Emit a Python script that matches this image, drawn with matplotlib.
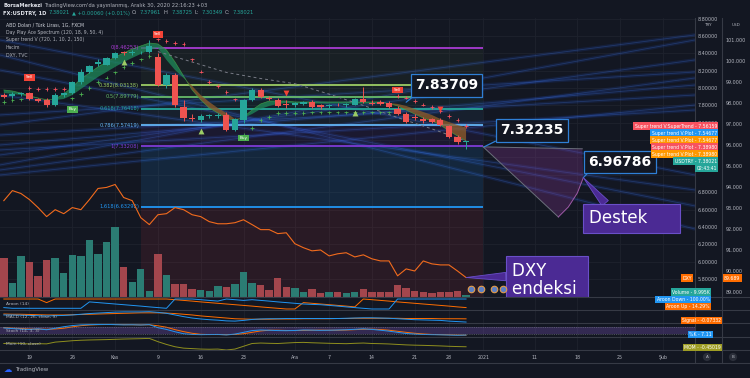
import numpy as np
import pandas as pd
import matplotlib
matplotlib.use("Agg")
import matplotlib.pyplot as plt
import matplotlib.transforms as mtransforms
from matplotlib.lines import Line2D
from matplotlib.patches import Polygon
from matplotlib.ticker import FormatStrFormatter

BG = "#131722"
GRID = "#1e222d"
SEP = "#363a45"
TXT = "#b2b5be"
UP = "#26a69a"
DOWN = "#ef5350"
ORANGE = "#ff6d00"
BLUE = "#2196f3"

# daily FXCM bars, no bar on 25 Dec
days = pd.bdate_range("2020-10-14", "2021-02-12").drop(pd.Timestamp("2020-12-25"))

opens = [7.92, 7.91, 7.93, 7.94, 7.87, 7.86, 7.80, 7.92, 7.94, 8.07, 8.19, 8.28, 8.27, 8.35,
         8.41, 8.40, 8.41, 8.41, 8.36, 8.04, 8.15, 7.78, 7.66, 7.63, 7.68, 7.68, 7.69, 7.52,
         7.63, 7.86, 7.98, 7.89, 7.86, 7.82, 7.80, 7.82, 7.84, 7.80, 7.79, 7.81, 7.80, 7.81,
         7.87, 7.83, 7.84, 7.83, 7.76, 7.70, 7.67, 7.64, 7.64, 7.63, 7.56, 7.44, 7.37961]
highs = [7.94, 7.95, 7.96, 7.96, 7.89, 7.88, 7.94, 7.96, 8.08, 8.22, 8.27, 8.33, 8.36, 8.41,
         8.43, 8.44, 8.43, 8.55, 8.40, 8.17, 8.17, 7.86, 7.70, 7.70, 7.70, 7.71, 7.72, 7.65,
         7.87, 8.00, 8.00, 7.91, 7.88, 7.86, 7.84, 7.85, 7.86, 7.82, 7.82, 7.83, 7.83, 7.88,
         8.01, 7.86, 7.86, 7.85, 7.79, 7.72, 7.70, 7.67, 7.66, 7.65, 7.58, 7.46, 7.38725]
lows = [7.89, 7.89, 7.91, 7.86, 7.84, 7.78, 7.79, 7.90, 7.93, 8.05, 8.17, 8.25, 8.26, 8.33,
        8.38, 8.38, 8.39, 8.40, 8.02, 8.00, 7.78, 7.62, 7.62, 7.61, 7.66, 7.66, 7.50, 7.50,
        7.60, 7.85, 7.88, 7.86, 7.78, 7.77, 7.78, 7.80, 7.77, 7.76, 7.77, 7.79, 7.78, 7.80,
        7.83, 7.80, 7.81, 7.77, 7.69, 7.60, 7.63, 7.60, 7.60, 7.56, 7.42, 7.36, 7.30349]
closes = [7.90, 7.93, 7.94, 7.87, 7.85, 7.80, 7.92, 7.94, 8.07, 8.19, 8.25, 8.30, 8.35, 8.40,
          8.40, 8.41, 8.42, 8.48, 8.04, 8.15, 7.80, 7.66, 7.64, 7.68, 7.68, 7.685, 7.52, 7.64,
          7.86, 7.98, 7.90, 7.87, 7.79, 7.80, 7.83, 7.84, 7.78, 7.78, 7.81, 7.80, 7.82, 7.87,
          7.84, 7.82, 7.82, 7.78, 7.70, 7.61, 7.65, 7.62, 7.61, 7.58, 7.44, 7.38, 7.38021]
volume_k = [195, 70, 205, 175, 105, 185, 195, 120, 210, 205, 285, 215, 275, 350, 150, 75,
            140, 30, 215, 110, 65, 65, 40, 35, 30, 55, 50, 65, 125, 70, 60, 35, 95, 50, 45,
            25, 40, 20, 25, 25, 20, 25, 40, 25, 25, 25, 60, 45, 30, 25, 20, 25, 25, 30, 9.995]
dxy = [93.35, 93.83, 93.69, 93.40, 93.02, 92.59, 92.92, 92.73, 93.02, 92.92, 93.40, 93.93,
       93.98, 94.12, 93.50, 93.35, 92.54, 92.21, 92.68, 92.73, 93.02, 92.92, 92.68, 92.59,
       92.35, 92.25, 92.25, 92.30, 92.44, 92.21, 91.97, 91.97, 91.78, 91.82, 91.30, 91.11,
       90.96, 91.00, 90.72, 90.82, 90.87, 90.67, 90.77, 90.58, 90.48, 90.48, 89.77, 90.10,
       90.00, 90.48, 90.34, 90.29, 90.29, 90.00, 89.689]

# Day Play Ace Spectrum ribbon
ribbon_fast = [7.978, 7.966, 7.943, 7.909, 7.886, 7.863, 7.874, 7.932, 8.012, 8.105, 8.174,
               8.243, 8.300, 8.358, 8.404, 8.450, 8.485, 8.519, 8.508, 8.439, 8.300, 8.139,
               7.978, 7.863, 7.770, 7.713, 7.655, 7.621, 7.667, 7.747, 7.817, 7.851, 7.851,
               7.851, 7.840, 7.840, 7.840, 7.840, 7.840, 7.840, 7.840, 7.840, 7.840, 7.840,
               7.840, 7.822, 7.794, 7.747, 7.701, 7.655, 7.621, 7.575, 7.506, 7.448, 7.390]
ribbon_slow = [7.943, 7.932, 7.920, 7.897, 7.880, 7.874, 7.863, 7.874, 7.920, 7.989, 8.059,
               8.128, 8.185, 8.243, 8.300, 8.347, 8.393, 8.439, 8.462, 8.324, 8.208, 8.116,
               8.024, 7.920, 7.840, 7.770, 7.713, 7.644, 7.655, 7.701, 7.759, 7.794, 7.817,
               7.828, 7.822, 7.822, 7.822, 7.822, 7.822, 7.822, 7.822, 7.822, 7.822, 7.822,
               7.822, 7.828, 7.817, 7.794, 7.759, 7.724, 7.690, 7.644, 7.609, 7.575, 7.547]
# Super trend V dots
st_dots = [7.84, 7.86, 7.87, 8.00, 7.99, 7.99, 7.99, 7.99, 7.88, 7.93, 8.00, 8.07, 8.12, 8.18,
           8.24, 8.29, 8.33, 8.37, 8.56, 8.54, 8.52, 8.51, 8.33, 8.19, 8.07, 8.02, 7.955, 7.87,
           7.46, 7.54, 7.63, 7.67, 7.71, 7.71, 7.71, 7.71, 7.72, 7.72, 7.72, 7.72, 7.72, 7.72,
           7.72, 7.72, 7.72, 7.72, 7.91, 7.89, 7.85, 7.81, 7.78, 7.73, 7.68, 7.63, 7.56159]
dash_days = ["2020-11-09", "2020-11-13", "2020-11-19", "2020-11-25", "2020-12-01",
             "2020-12-07", "2020-12-11", "2020-12-17", "2020-12-23", "2020-12-30"]
dash_vals = [8.42, 8.30, 8.18, 8.11, 8.05, 7.93, 7.80, 7.66, 7.53, 7.39]

tri_up_days = ["2020-11-03", "2020-11-16", "2020-12-10"]
tri_up_vals = [8.30, 7.505, 7.713]
tri_dn_days = ["2020-11-30", "2020-12-24"]
tri_dn_vals = [7.943, 7.76]
sell_days = ["2020-10-19", "2020-11-09", "2020-12-17"]
sell_vals = [8.122, 8.62, 7.978]
buy_days = ["2020-10-26", "2020-11-23"]
buy_vals = [7.753, 7.425]

fib_names = ["0", "0.382", "0.5", "0.618", "0.786", "1", "1.618"]
fib_prices = [8.46253, 8.03138, 7.89779, 7.76418, 7.57419, 7.33208, 6.63292]
fib_colors = ["#a83bd3", "#9ccc65", "#66bb6a", "#26a69a", "#64b5f6", "#7e3bd6", "#2196f3"]

# faint spectrum streaks (price at left edge, price at right edge)
streak_left = [7.114, 7.229, 7.056, 7.344, 7.459, 6.999, 7.575, 7.690, 7.287, 8.208, 8.381, 7.920, 8.554]
streak_right = [8.554, 8.324, 8.116, 8.035, 7.920, 7.805, 8.612, 8.185, 7.747, 6.642, 6.376, 6.826, 6.999]

callout_days = ["2020-12-18", "2021-01-01", "2021-01-18"]
callout_vals = [7.83709, 7.32235, 6.96786]
proj_offsets = [0.0, 11.58, 11.7, 11.0, 9.95, 8.78]
proj_prices = [7.32235, 7.30, 6.96786, 6.791, 6.63, 6.515]

aroon_up = [100, 100, 100, 100, 100, 64, 100, 100, 100, 100, 100, 100, 100, 100, 100, 100, 100,
            100, 100, 100, 93, 86, 79, 71, 64, 57, 50, 43, 36, 29, 21, 14, 7, 0, 0, 64, 57, 50,
            43, 36, 29, 21, 100, 93, 86, 79, 71, 64, 57, 50, 43, 36, 29, 21, 14.29]
aroon_down = [14, 7, 7, 7, 7, 7, 7, 7, 7, 7, 71, 64, 57, 50, 43, 36, 29, 21, 14, 7, 100, 100,
              100, 93, 86, 79, 100, 93, 86, 93, 86, 79, 71, 64, 57, 50, 46, 43, 36, 29, 21, 14,
              7, 0, 0, 0, 100, 100, 100, 100, 100, 100, 100, 100, 100]
macd = [0.09, 0.09, 0.08, 0.07, 0.06, 0.05, 0.06, 0.07, 0.09, 0.12, 0.15, 0.17, 0.19, 0.21,
        0.22, 0.22, 0.22, 0.23, 0.20, 0.16, 0.09, 0.02, -0.04, -0.08, -0.11, -0.13, -0.16, -0.17,
        -0.14, -0.10, -0.08, -0.07, -0.07, -0.06, -0.06, -0.06, -0.06, -0.06, -0.06, -0.06,
        -0.05, -0.04, -0.03, -0.03, -0.04, -0.05, -0.07, -0.09, -0.11, -0.12, -0.13, -0.14,
        -0.17, -0.19, -0.21]
signal = [0.13, 0.12, 0.12, 0.11, 0.10, 0.09, 0.09, 0.09, 0.10, 0.11, 0.12, 0.13, 0.14, 0.15,
          0.16, 0.17, 0.18, 0.18, 0.18, 0.17, 0.15, 0.12, 0.09, 0.05, 0.02, -0.01, -0.04, -0.07,
          -0.08, -0.09, -0.09, -0.09, -0.08, -0.08, -0.08, -0.07, -0.07, -0.07, -0.07, -0.06,
          -0.06, -0.05, -0.05, -0.05, -0.05, -0.05, -0.05, -0.06, -0.06, -0.06, -0.06, -0.07,
          -0.07, -0.07, -0.07332]
stoch_k = [68, 62, 58, 55, 60, 52, 65, 78, 88, 94, 96, 97, 98, 96, 94, 95, 93, 96, 70, 55, 35,
           18, 12, 10, 11, 12, 8, 15, 30, 45, 50, 48, 45, 44, 46, 50, 49, 47, 48, 50, 52, 56, 60,
           55, 48, 40, 30, 20, 15, 12, 10, 9, 7, 5, 7.11]
stoch_d = [70, 66, 63, 58, 58, 56, 59, 65, 77, 87, 93, 96, 97, 97, 96, 95, 94, 95, 86, 74, 53,
           36, 22, 13, 11, 11, 10, 12, 18, 30, 42, 48, 48, 46, 45, 47, 48, 49, 48, 48, 50, 53, 56,
           57, 54, 48, 39, 30, 22, 16, 12, 10, 9, 7, 6]
mom = [-0.10, -0.05, -0.10, -0.15, -0.12, -0.14, 0.05, 0.12, 0.20, 0.25, 0.28, 0.30, 0.32, 0.35,
       0.38, 0.40, 0.42, 0.45, 0.10, -0.20, -0.45, -0.60, -0.65, -0.70, -0.72, -0.70, -0.80,
       -0.70, -0.40, -0.10, -0.05, -0.08, -0.10, -0.05, 0.00, 0.02, -0.02, -0.05, -0.08, -0.10,
       -0.12, -0.08, -0.05, -0.10, -0.12, -0.15, -0.20, -0.25, -0.28, -0.30, -0.33, -0.36,
       -0.40, -0.43, -0.45019]

try_ticks = [5.8, 6.0, 6.2, 6.4, 6.6, 6.8, 7.6, 7.8, 8.0, 8.2, 8.4, 8.6, 8.8]
usd_ticks = [89, 90, 91, 92, 93, 94, 95, 96, 97, 98, 99, 100, 101]
tick_days = ["2020-10-19", "2020-10-26", "2020-11-02", "2020-11-09", "2020-11-16", "2020-11-23",
             "2020-12-01", "2020-12-07", "2020-12-14", "2020-12-21", "2020-12-28", "2021-01-01",
             "2021-01-11", "2021-01-18", "2021-01-25", "2021-02-01"]
tick_labels = ["19", "26", "Kas", "9", "16", "23", "Ara", "7", "14", "21", "28", "2021",
               "11", "18", "25", "Şub"]

W, H = 750, 378


def box(x0, y0, x1, y1):
    return [x0 / W, 1 - y1 / H, (x1 - x0) / W, (y1 - y0) / H]


def fx(v):
    return v / W


def fy(v):
    return 1 - v / H


def pos(d):
    return days.get_loc(pd.Timestamp(d))


x = np.arange(len(closes))
o, hi, lo, c = map(np.array, (opens, highs, lows, closes))
up = c >= o
col = np.where(up, UP, DOWN)
tick_pos = [pos(d) for d in tick_days]
xlim = (3 - 29.5 / 8.56, 3 + (695 - 29.5) / 8.56)

fig = plt.figure(figsize=(7.5, 3.78), dpi=100, facecolor=BG)


def clean(a):
    a.set_facecolor(BG)
    for s in a.spines.values():
        s.set_visible(False)
    a.set_xlim(*xlim)
    a.tick_params(axis="x", length=0, labelbottom=False)


# ---------- main price pane ----------
ax = fig.add_axes(box(0, 18, 695, 297))
clean(ax)
ax.set_ylim(5.593, 8.807)
for p in tick_pos:
    ax.axvline(p, color=GRID, lw=0.6, zorder=0)
for yv in np.arange(5.8, 8.81, 0.2):
    ax.axhline(yv, color=GRID, lw=0.6, zorder=0)

for a, b in zip(streak_left, streak_right):
    ax.plot(xlim, [a, b], color="#2962ff", lw=2.6, alpha=0.12, zorder=0.5, solid_capstyle="butt")
    ax.plot(xlim, [a, b], color="#3d6fd6", lw=0.6, alpha=0.3, zorder=0.5)

# fib retracement
fx0, fx1 = pos("2020-11-05"), pos("2021-01-01")
band_alpha = [0.05, 0.07, 0.07, 0.06, 0.08, 0.13]
for i in range(len(fib_prices) - 1):
    ax.fill_between([fx0, fx1], fib_prices[i], fib_prices[i + 1], color=fib_colors[i + 1],
                    alpha=band_alpha[i], lw=0, zorder=1)
ax.fill_between([fx0, fx1], fib_prices[-1], ax.get_ylim()[0], color="#f23645", alpha=0.10, lw=0, zorder=1)
for name, p, fc in zip(fib_names, fib_prices, fib_colors):
    ax.hlines(p, fx0, fx1, color=fc, lw=1.3, zorder=2)
    ax.text(fx0 - 0.2, p, f"{name}({p:.5f})", color=fc, fontsize=3.7, ha="right", va="center", zorder=6)

# ribbon
rf, rs = np.array(ribbon_fast), np.array(ribbon_slow)
ax.fill_between(x, rf, rs, where=rf >= rs, interpolate=True, color="#1f8a5a", alpha=0.75, lw=0, zorder=3)
ax.fill_between(x, rf, rs, where=rf < rs, interpolate=True, color="#8a5a2a", alpha=0.8, lw=0, zorder=3)
ax.plot(x, rf, color="#43a047", lw=0.5, alpha=0.8, zorder=3)

dx = [pos(d) for d in dash_days]
ax.plot(dx, dash_vals, color="#787b86", lw=0.7, ls=(0, (3, 3)), zorder=3)

st = np.array(st_dots)
ax.scatter(x, st, marker="+", s=7, lw=0.6, c=np.where(st > c, "#f7525f", "#4caf50"), zorder=4)

# candles
ax.vlines(x, lo, hi, colors=col, lw=0.7, zorder=4)
ax.bar(x, np.maximum(np.abs(c - o), 0.007), bottom=np.minimum(o, c), width=0.72, color=col, lw=0, zorder=5)

ax.scatter([pos(d) for d in tri_up_days], tri_up_vals, marker="^", s=18, color="#9ccc65", lw=0, zorder=6)
ax.scatter([pos(d) for d in tri_dn_days], tri_dn_vals, marker="v", s=18, color="#f44336", lw=0, zorder=6)
for d, v in zip(sell_days, sell_vals):
    ax.text(pos(d), v, "Sell", fontsize=3, color="white", ha="center", va="center", zorder=7,
            bbox=dict(boxstyle="square,pad=0.35", fc="#f44336", ec="none"))
for d, v in zip(buy_days, buy_vals):
    ax.text(pos(d), v, "Buy", fontsize=3, color="white", ha="center", va="center", zorder=7,
            bbox=dict(boxstyle="square,pad=0.35", fc="#4caf50", ec="none"))

# projection sector
base = pos(callout_days[1])
pts = [(base + dxo, p) for dxo, p in zip(proj_offsets, proj_prices)]
ax.add_patch(Polygon(pts, closed=True, fc="#8e3a9a", alpha=0.28, ec="none", zorder=2))
ax.plot([pts[0][0], pts[-1][0]], [pts[0][1], pts[-1][1]], color="#6b6f7b", lw=0.7, zorder=2)
ax.plot([pts[0][0], pts[1][0]], [pts[0][1], pts[1][1]], color="#6b6f7b", lw=0.7, zorder=2)
ax.plot([q[0] for q in pts[2:]], [q[1] for q in pts[2:]], color="#a05aa8", lw=0.7, zorder=2)

# volume
ax_v = ax.twinx()
ax_v.set_ylim(0, 1395)
ax_v.set_yticks([])
for s in ax_v.spines.values():
    s.set_visible(False)
ax_v.bar(x, volume_k, width=0.86, color=np.where(up, "#2b7c73", "#a3464d"), lw=0)

# DXY
ax_d = ax.twinx()
ax_d.set_ylim(88.762, 102.048)
for s in ax_d.spines.values():
    s.set_visible(False)
ax_d.set_yticks(usd_ticks)
ax_d.yaxis.set_major_formatter(FormatStrFormatter("%.3f"))
ax_d.tick_params(axis="y", length=0, pad=22, labelsize=3.5, labelcolor=TXT)
ax_d.plot(x, dxy, color="#f26b1d", lw=0.8)

# TRY scale (twinx moved it to the left, put it back)
ax.yaxis.tick_right()
ax.set_yticks(try_ticks)
ax.yaxis.set_major_formatter(FormatStrFormatter("%.5f"))
ax.tick_params(axis="y", length=0, pad=2, labelsize=3.5, labelcolor=TXT, labelleft=False, labelright=True)

# event icons
ev = mtransforms.blended_transform_factory(ax_d.transData, ax_d.transAxes)
for off in [0.58, 1.75, 3.27, 4.32]:
    ax_d.scatter(pos("2020-12-30") + off, 0.029, transform=ev, s=22, fc="#5b7fc4", ec="#e39b4a", lw=0.8, zorder=8)

# callouts
ck = dict(fontsize=10, fontweight="bold", color="white", ha="left", va="center",
          xycoords=ax.transData, textcoords="offset points", annotation_clip=False,
          bbox=dict(boxstyle="square,pad=0.3", fc=BG, ec="#2f7fd6", lw=0.9),
          arrowprops=dict(arrowstyle="-", color="#2f7fd6", lw=0.9, shrinkA=0, shrinkB=0, relpos=(0.05, 0)))
shifts = [(6.5, 12.1), (11.5, 11.9), (3.6, 11.3)]
bar_off = [0.0, 0.1, 0.7]
for d, v, sh, bo in zip(callout_days, callout_vals, shifts, bar_off):
    ax_d.annotate(f"{v:.5f}", xy=(pos(d) + bo, v), xytext=sh, **ck)

pk = dict(fontsize=12, color="white", ha="left", va="center", textcoords="offset points",
          annotation_clip=False, bbox=dict(boxstyle="square,pad=0.35", fc="#4b2a94", ec="#6a4fc8", lw=0.8))
ax_d.annotate("Destek\u00a0\u00a0\u00a0\u00a0\u00a0", xy=(pos(callout_days[2]) + 0.7, callout_vals[2]),
              xycoords=ax.transData, xytext=(4.3, -29.4),
              arrowprops=dict(arrowstyle="wedge,tail_width=0.5", fc="#4b2a94", ec="#6a4fc8", lw=0.6,
                              shrinkA=0, shrinkB=0, relpos=(0.25, 1)), **pk)
ax_d.annotate("DXY\u00a0\u00a0\u00a0\u00a0\u00a0\nendeksi\u00a0", xy=(x[-1], dxy[-1]), xytext=(33, -1.8),
              linespacing=1.0,
              arrowprops=dict(arrowstyle="wedge,tail_width=0.5", fc="#4b2a94", ec="#6a4fc8", lw=0.6,
                              shrinkA=0, shrinkB=0, relpos=(0, 0.6)), **pk)

# ---------- indicator panes ----------
panes = [(297, 310, (-10, 120), [(aroon_up, ORANGE), (aroon_down, BLUE)], "Aroon (14)"),
         (310, 323, (-0.25, 0.30), [(signal, ORANGE), (macd, BLUE)], "MACD (12, 26, close, 9)"),
         (323, 337, (-10, 110), [(stoch_d, ORANGE), (stoch_k, BLUE)], "Stoch (14, 3, 3)"),
         (337, 350, (-0.8, 0.6), [(mom, "#8f8f1e")], "Mom (10, close)")]
pane_axes = []
for y0, y1, yl, series, name in panes:
    pa = fig.add_axes(box(0, y0, 695, y1))
    clean(pa)
    pa.set_ylim(*yl)
    pa.set_yticks([])
    for p in tick_pos:
        pa.axvline(p, color=GRID, lw=0.6, zorder=0)
    for vals, cc in series:
        pa.plot(x, vals, color=cc, lw=0.7)
    fig.text(fx(6), fy((y0 + y1) / 2 + 0.5), name, fontsize=3.2, color=TXT, va="center")
    pane_axes.append(pa)

pane_axes[2].axhspan(20, 80, color="#7e57c2", alpha=0.3, lw=0)
pane_axes[2].axhline(20, color="#787b86", lw=0.4, ls=(0, (2, 2)))
pane_axes[2].axhline(80, color="#787b86", lw=0.4, ls=(0, (2, 2)))

pm = pane_axes[-1]
pm.set_xticks(tick_pos)
pm.set_xticklabels(tick_labels)
pm.tick_params(axis="x", length=0, pad=3.3, labelsize=3.4, labelcolor=TXT, labelbottom=True)

# separators
for yy in [297, 310, 323, 337, 350, 363]:
    fig.add_artist(Line2D([0, 1], [fy(yy)] * 2, transform=fig.transFigure, color=SEP, lw=0.8))
for xx in [695, 722]:
    fig.add_artist(Line2D([fx(xx)] * 2, [fy(18), fy(363)], transform=fig.transFigure, color=SEP, lw=0.8))

# ---------- texts ----------
renderer = fig.canvas.get_renderer()


def chain(pieces, x0, y, size):
    for txt, cc, wt in pieces:
        t = fig.text(fx(x0), fy(y), txt, color=cc, fontsize=size, fontweight=wt, va="center")
        x0 += t.get_window_extent(renderer).width + 2.2


chain([("BorsaMerkezi", "#e0e3eb", "bold"),
       ("TradingView.com'da yayınlanmış, Aralık 30, 2020 22:16:23 +03", TXT, "normal")], 3, 5.5, 3.7)
chain([("FX:USDTRY, 1D", "#e0e3eb", "bold"), ("7.38021", UP, "normal"), ("▲ +0.00060 (+0.01%)", UP, "normal"),
       ("O:", TXT, "normal"), ("7.37961", UP, "normal"), ("H:", TXT, "normal"), ("7.38725", UP, "normal"),
       ("L:", TXT, "normal"), ("7.30349", UP, "normal"), ("C:", TXT, "normal"), ("7.38021", UP, "normal")],
      3, 13, 3.7)

legend = ["ABD Doları / Türk Lirası, 1G, FXCM", "Day Play Ace Spectrum (120, 18, 9, 50, 4)",
          "Super trend V (720, 1, 10, 2, 150)", "Hacim", "DXY, TVC"]
for i, s in enumerate(legend):
    fig.text(fx(6), fy(25 + i * 7.5), s, fontsize=3.3, color="#d1d4dc" if i == 0 else TXT, va="center")

fig.text(fx(708), fy(24.5), "TRY", fontsize=3, color=TXT, ha="center", va="center")
fig.text(fx(736), fy(24.5), "USD", fontsize=3, color=TXT, ha="center", va="center")


def tag(txt, xr, y, color, size=3.3):
    fig.text(fx(xr), fy(y), txt, ha="right", va="center", fontsize=size, color="white",
             bbox=dict(boxstyle="square,pad=0.28", fc=color, ec="none"), zorder=10)


y_top = H - ax.transData.transform((0, st_dots[-1]))[1]
right_tags = [("Super trend V:SuperTrend - 7.56159", "#f7525f"), ("Super trend V:Plot - 7.54677", BLUE),
              ("Super trend V:Plot - 7.54677", "#ff9800"), ("Super trend V:Plot - 7.38980", "#f7525f"),
              ("Super trend V:Plot - 7.38980", "#ff9800"), (f"USDTRY - {closes[-1]:.5f}", UP),
              ("02:43:41", UP)]
for i, (s, cc) in enumerate(right_tags):
    tag(s, 717, y_top + i * 7, cc)

tag("DXY", 692, 278, ORANGE)
fig.text(fx(724), fy(278), f"{dxy[-1]:.3f}", ha="left", va="center", fontsize=3.3, color="white",
         bbox=dict(boxstyle="square,pad=0.28", fc=ORANGE, ec="none"), zorder=10)
tag(f"Volume - {volume_k[-1]:.3f}K", 710, 292, UP)
tag(f"Aroon Down - {aroon_down[-1]:.2f}%", 710, 299.5, BLUE)
tag(f"Aroon Up - {aroon_up[-1]:.2f}%", 710, 306.5, ORANGE)
tag(f"Signal - {signal[-1]:.5f}", 721, 320.5, ORANGE)
tag(f"%K - {stoch_k[-1]:.2f}", 712, 334.5, BLUE)
tag(f"MOM - {mom[-1]:.5f}", 721, 347.5, "#9e9d24")

for xx, s in [(707, "A"), (733, "B")]:
    fig.text(fx(xx), fy(357), s, fontsize=3, color=TXT, ha="center", va="center",
             bbox=dict(boxstyle="circle,pad=0.5", fc="#2a2e39", ec="none"))

fig.text(fx(4), fy(370), "☁", fontsize=6, color="#2962ff", va="center")
fig.text(fx(15), fy(370), "TradingView", fontsize=4, color=TXT, va="center")

fig.savefig("out.png", dpi=100, facecolor=BG)
